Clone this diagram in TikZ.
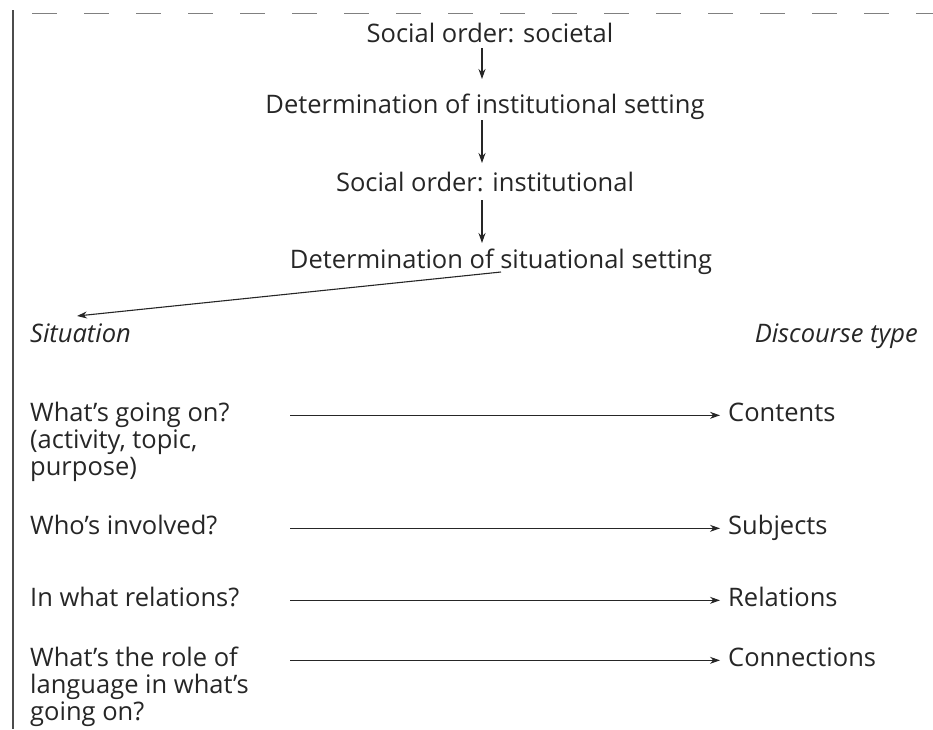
\documentclass[tikz,border=0pt]{standalone}
\usepackage{fontspec}
\setmainfont{Open Sans}
\usetikzlibrary{arrows.meta}
\tikzset{
  lbl/.style={font=\fontsize{25.5}{30}\selectfont, text=black!85, inner sep=4pt},
  ilbl/.style={lbl, font=\fontsize{25.5}{30}\itshape\selectfont},
  arr/.style={-{Stealth[length=10pt,width=7pt]}, line width=1.1pt, black!85},
}
\begin{document}
\begin{tikzpicture}[x=1pt,y=1pt,yscale=-1,xscale=1]
\useasboundingbox (0,0) rectangle (933,729);

%Straight Lines: page edges
\draw[black!50, line width=1pt, dash pattern=on 25pt off 27pt] (32,13) -- (933,13);
\draw[black!70, line width=2pt] (13,10) -- (13,729);

% Text Node
\draw (490,42) node[lbl, anchor=base] (soc) {Social order: societal};
% Text Node
\draw (485,113) node[lbl, anchor=base] (detinst) {Determination of institutional setting};
% Text Node
\draw (485,191) node[lbl, anchor=base] (socinst) {Social order: institutional};
% Text Node
\draw (501,268) node[lbl, anchor=base] (detsit) {Determination of situational setting};

% Text Node
\draw (26,342) node[ilbl, anchor=base west] (sit) {Situation};
% Text Node
\draw (922,342) node[ilbl, anchor=base east] (disc) {Discourse type};

% Text Node
\draw (26,421) node[lbl, anchor=base west] (q1) {What’s going on?};
\draw (26,448) node[lbl, anchor=base west] (q1b) {(activity, topic,};
\draw (26,475) node[lbl, anchor=base west] (q1c) {purpose)};
% Text Node
\draw (26,534) node[lbl, anchor=base west] (q2) {Who’s involved?};
% Text Node
\draw (26,606) node[lbl, anchor=base west] (q3) {In what relations?};
% Text Node
\draw (26,666) node[lbl, anchor=base west] (q4) {What’s the role of};
\draw (26,693) node[lbl, anchor=base west] (q4b) {language in what’s};
\draw (26,720) node[lbl, anchor=base west] (q4c) {going on?};

% Text Node
\draw (724,421) node[lbl, anchor=base west] (d1) {Contents};
% Text Node
\draw (724,534) node[lbl, anchor=base west] (d2) {Subjects};
% Text Node
\draw (724,606) node[lbl, anchor=base west] (d3) {Relations};
% Text Node
\draw (724,666) node[lbl, anchor=base west] (d4) {Connections};

\coordinate (xs) at (290,0);
\coordinate (vx) at (482,0);
\coordinate (tip) at (77,316);

%Straight Lines
\draw[arr] ([yshift=6pt]soc.base -| vx) -- ([yshift=-34pt]detinst.base -| vx);
%Straight Lines
\draw[arr] ([yshift=7pt]detinst.base -| vx) -- ([yshift=-28pt]socinst.base -| vx);
%Straight Lines
\draw[arr] ([yshift=9pt]socinst.base -| vx) -- ([yshift=-25pt]detsit.base -| vx);
%Straight Lines
\draw[arr] ([yshift=4pt]detsit.base) -- (tip);

%Straight Lines
\draw[arr] ([yshift=-3pt]q1.mid -| xs) -- ([xshift=-4pt,yshift=-3pt]d1.mid west);
%Straight Lines
\draw[arr] ([yshift=-3pt]q2.mid -| xs) -- ([xshift=-4pt,yshift=-3pt]d2.mid west);
%Straight Lines
\draw[arr] ([yshift=-3pt]q3.mid -| xs) -- ([xshift=-4pt,yshift=-3pt]d3.mid west);
%Straight Lines
\draw[arr] ([yshift=-3pt]q4.mid -| xs) -- ([xshift=-4pt,yshift=-3pt]d4.mid west);

\end{tikzpicture}
\end{document}
